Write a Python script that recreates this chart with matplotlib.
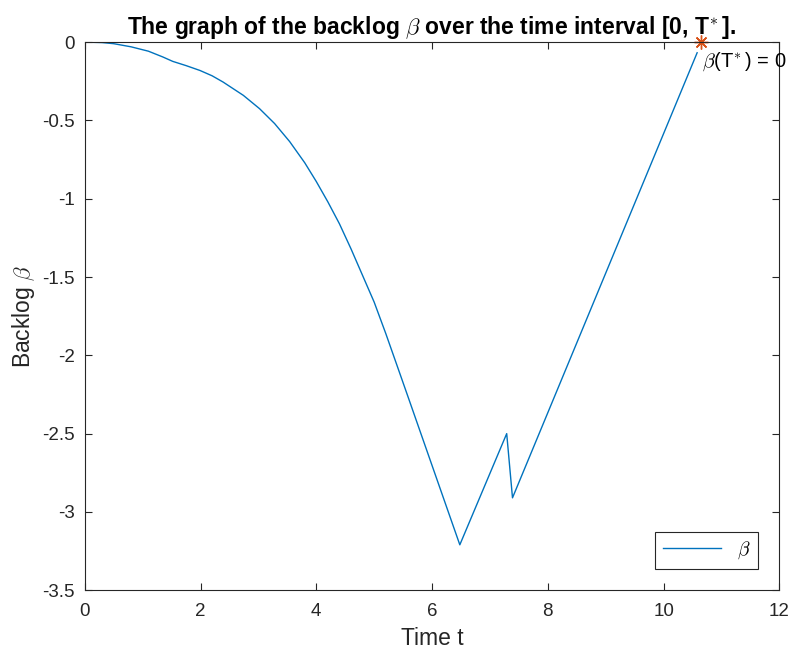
import matplotlib
matplotlib.use("Agg")

import matplotlib.pyplot as plt

# backlog curve
t = [0.0, 0.3, 0.5, 0.8, 1.1, 1.35, 1.52, 1.75, 1.99, 2.2, 2.39, 2.74,
     3.02, 3.28, 3.54, 3.8, 4.0, 4.2, 4.4, 4.6, 4.8, 5.0, 5.2, 5.4, 5.59,
     6.48, 7.29, 7.39, 10.58]
beta = [0.0, -0.003, -0.01, -0.03, -0.058, -0.095, -0.123, -0.15,
        -0.181, -0.215, -0.255, -0.34, -0.425, -0.52, -0.635, -0.77,
        -0.89, -1.02, -1.16, -1.32, -1.49, -1.66, -1.86, -2.07, -2.27,
        -3.21, -2.50, -2.91, -0.068]

t_star = 10.64
beta_star = 0.0

plt.rcParams["font.family"] = ["Liberation Sans", "DejaVu Sans"]
plt.rcParams["mathtext.fontset"] = "cm"

fig = plt.figure(figsize=(7.92, 6.58), dpi=100)
ax = fig.add_axes([0.107, 0.103, 0.877, 0.833])

blue = (0, 0.447, 0.741)
orange = (0.85, 0.325, 0.098)

ax.plot(t, beta, color=blue, lw=1.0, label=r"$\beta$")
ax.plot([t_star], [beta_star], marker=(8, 2, 0), color=orange, ms=10,
        markeredgewidth=1.0, linestyle="none", clip_on=False)
ax.text(t_star + 0.02, beta_star - 0.05, r"$\beta$(T$^{\!*}$) = 0",
        fontsize=14.5, va="top", ha="left", clip_on=False)

ax.set_xlim(0, 12)
ax.set_ylim(-3.5, 0)
ax.set_xticks(range(0, 13, 2))
ax.set_yticks([-3.5, -3, -2.5, -2, -1.5, -1, -0.5, 0])
ax.set_yticklabels(["-3.5", "-3", "-2.5", "-2", "-1.5", "-1", "-0.5", "0"])

axcol = (0.15, 0.15, 0.15)
for s in ax.spines.values():
    s.set_color(axcol)
    s.set_linewidth(0.8)
ax.tick_params(direction="in", top=True, right=True, length=5,
               labelsize=13.5, colors=axcol)
ax.tick_params(axis="x", pad=9)
ax.tick_params(axis="y", pad=7)

ax.set_xlabel("Time t", fontsize=16.5, color=axcol, labelpad=5)
ax.set_ylabel(r"Backlog $\beta$", fontsize=16.5, color=axcol, labelpad=4)
ax.set_title(r"The graph of the backlog $\beta$ over the time interval [0, T$^{\!*}$].",
             fontsize=16.5, fontweight="bold", pad=6)

leg = ax.legend(loc="lower right", fontsize=14, fancybox=False,
                framealpha=1, edgecolor=axcol, handlelength=3.0,
                borderaxespad=1.1)
leg.get_frame().set_linewidth(0.8)

fig.savefig("out.png", dpi=100)
